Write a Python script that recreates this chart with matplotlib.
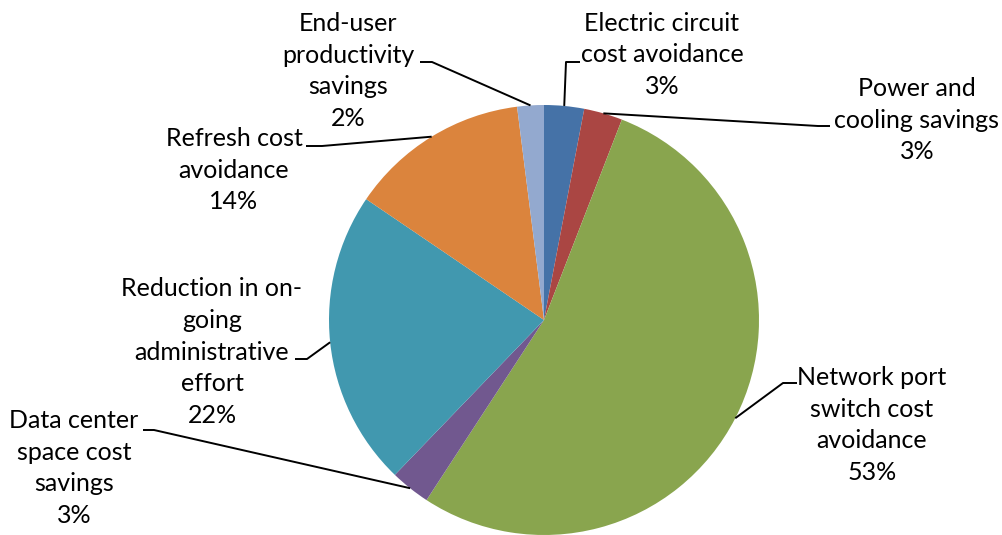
import numpy as np
import matplotlib
matplotlib.use('Agg')
import matplotlib.pyplot as plt

W, H = 1002, 535

# slice data, clockwise from 12 o'clock
labels = [
    "Electric circuit\ncost avoidance",
    "Power and\ncooling savings",
    "Network port\nswitch cost\navoidance",
    "Data center\nspace cost\nsavings",
    "Reduction in on-\ngoing\nadministrative\neffort",
    "Refresh cost\navoidance",
    "End-user\nproductivity\nsavings",
]
values = [3.0, 2.9, 53.3, 3.0, 22.3, 13.5, 2.0]
pct_text = ["3%", "3%", "53%", "3%", "22%", "14%", "2%"]
colors = ['#4572A7', '#AA4643', '#89A54E', '#71588F', '#4198AF', '#DB843D', '#93A9CF']

# label layout in image pixels (top-left origin): text centre, stub start, elbow
text_pos = [(662, 55), (917, 120), (872, 425), (74, 468), (212, 352), (234, 170), (348, 71)]
stub_start = [(580, 62), (830, 126), (797, 383), (143, 430), (295, 359), (306, 146), (420, 62)]
elbow = [(566, 62), (818, 126), (783, 383), (154, 430), (307, 359), (322, 146), (432, 62)]

cx, cy, r = 544, 320, 215


def P(x, y):
    return x, H - y


fig = plt.figure(figsize=(W / 100, H / 100), dpi=100)
ax = fig.add_axes([0, 0, 1, 1])
wedges, _ = ax.pie(values, colors=colors, startangle=90, counterclock=False,
                   center=P(cx, cy), radius=r, wedgeprops=dict(linewidth=0))
ax.set_xlim(0, W)
ax.set_ylim(0, H)
ax.set_aspect('equal')
ax.axis('off')

for i, w in enumerate(wedges):
    mid = np.deg2rad((w.theta1 + w.theta2) / 2)
    ax_x = cx + r * np.cos(mid)
    ax_y = H - cy + r * np.sin(mid)
    xs = [P(*stub_start[i])[0], P(*elbow[i])[0], ax_x]
    ys = [P(*stub_start[i])[1], P(*elbow[i])[1], ax_y]
    ax.plot(xs, ys, color='black', lw=1.4, solid_capstyle='butt', zorder=3)
    tx, ty = P(*text_pos[i])
    ax.text(tx, ty, labels[i] + "\n" + pct_text[i], ha='center', va='center',
            multialignment='center', fontsize=18, family='Lato',
            linespacing=1.45, color='black')

plt.savefig('out.png', dpi=100)
